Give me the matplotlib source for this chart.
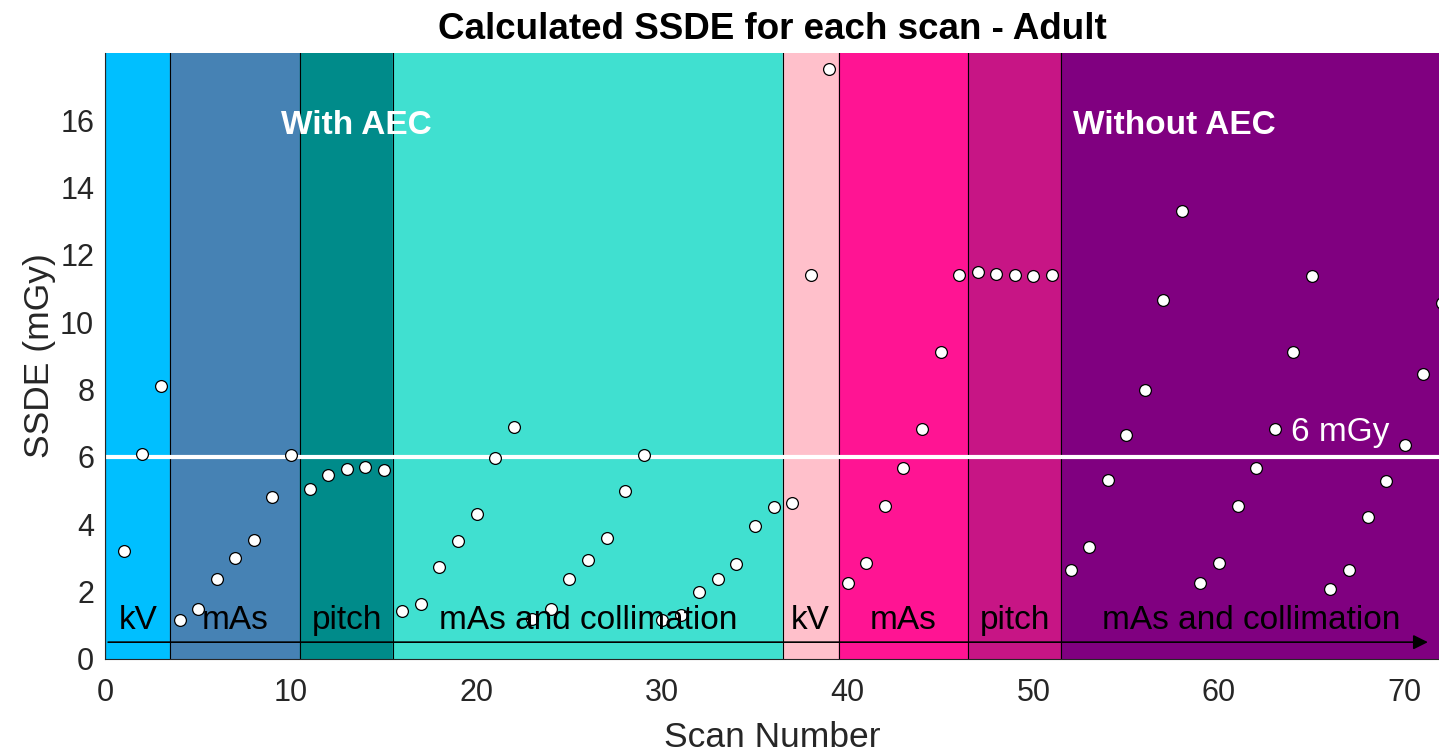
import numpy as np
import matplotlib
matplotlib.use('Agg')
from matplotlib import pyplot as plt

# SSDE per scan (mGy), scans 1..72
scan = np.arange(1, 73)
ssde = [3.21, 6.10, 8.11,
        1.17, 1.49, 2.39, 2.99, 3.53, 4.81, 6.06,
        5.06, 5.45, 5.64, 5.70, 5.61,
        1.42, 1.62, 2.74, 3.50, 4.30, 5.96, 6.89,
        1.20, 1.48, 2.39, 2.94, 3.58, 5.00, 6.07,
        1.15, 1.30, 1.98, 2.39, 2.82, 3.96, 4.52,
        4.64, 11.39, 17.51,
        2.26, 2.84, 4.54, 5.68, 6.83, 9.11, 11.39,
        11.48, 11.42, 11.39, 11.37, 11.39,
        2.64, 3.34, 5.31, 6.64, 7.98, 10.65, 13.29,
        2.25, 2.84, 4.54, 5.68, 6.83, 9.11, 11.37,
        2.09, 2.64, 4.21, 5.28, 6.35, 8.47, 10.57]

# protocol segments: label, first scan edge, last scan edge, colour
seg_labels = ['kV', 'mAs', 'pitch', 'mAs and collimation',
              'kV', 'mAs', 'pitch', 'mAs and collimation']
seg_edges = [0, 3.5, 10.5, 15.5, 36.5, 39.5, 46.5, 51.5, 72]
seg_colors = ['#00BFFF', '#4682B4', '#008B8A', '#40E0D0',
              '#FFC0CB', '#FF1493', '#C71585', '#800080']

ref_dose = 6

plt.rcParams['font.family'] = ['Liberation Sans', 'DejaVu Sans']
fig = plt.figure(figsize=(14.39, 7.54), dpi=100)
ax = fig.add_axes([0.0732, 0.126, 0.9268, 0.804])

for i in range(len(seg_labels)):
    ax.axvspan(seg_edges[i], seg_edges[i+1], color=seg_colors[i], zorder=0)
    ax.axvline(seg_edges[i], color='k', lw=0.8, zorder=1)
    ax.text((seg_edges[i] + seg_edges[i+1]) / 2, 1.15, seg_labels[i],
            ha='center', va='center', fontsize=24, color='k', zorder=5)

ax.axhline(ref_dose, color='white', lw=3, zorder=2)
ax.text(66.5, 6.72, '6 mGy', color='white', fontsize=24,
        ha='center', va='center', zorder=5)
ax.text(13.5, 15.85, 'With AEC', color='white', fontsize=24,
        fontweight='bold', ha='center', va='center', zorder=5)
ax.text(57.6, 15.85, 'Without AEC', color='white', fontsize=24,
        fontweight='bold', ha='center', va='center', zorder=5)

ax.annotate('', xy=(71.4, 0.5), xytext=(0, 0.5),
            arrowprops=dict(arrowstyle='-|>', color='k', lw=1.2,
                            mutation_scale=22), zorder=4)

ax.plot(scan, ssde, 'o', ms=8.5, mfc='white', mec='k', mew=0.9,
        zorder=3, clip_on=False)

ax.set_xlim(0, 71.85)
ax.set_ylim(0, 18)
ax.set_xticks(np.arange(0, 71, 10))
ax.set_yticks(np.arange(0, 17, 2))
ax.tick_params(labelsize=22, colors='#262626', length=0)
ax.tick_params(axis='x', pad=14)
ax.tick_params(axis='y', pad=8)
ax.set_xlabel('Scan Number', fontsize=25.5, color='#262626', labelpad=9)
ax.set_ylabel('SSDE (mGy)', fontsize=25.5, color='#262626', labelpad=3)
ax.set_title('Calculated SSDE for each scan - Adult', fontsize=26.5,
             fontweight='bold', pad=10)
for s in ['top', 'right']:
    ax.spines[s].set_visible(False)
ax.spines['left'].set_color('#262626')
ax.spines['bottom'].set_color('#262626')

fig.savefig('out.png', dpi=100)
